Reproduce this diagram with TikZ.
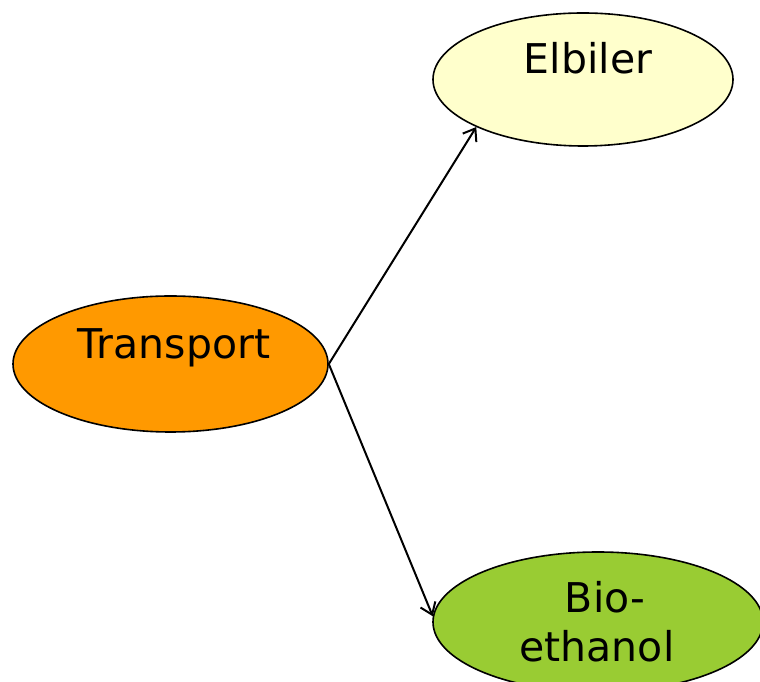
\documentclass[tikz,border=0pt]{standalone}
\usepackage{fontspec}
\setmainfont{DejaVu Sans}
\usetikzlibrary{shapes.geometric,arrows.meta}
\definecolor{orng}{HTML}{FF9900}
\definecolor{yell}{HTML}{FFFFCC}
\definecolor{grn}{HTML}{99CC33}
\begin{document}
\begin{tikzpicture}[x=1pt,y=1pt,
  blob/.style={ellipse,draw=black,line width=1.6pt,inner sep=0pt},
  lbl/.style={anchor=base,font=\fontsize{41}{48}\selectfont,inner sep=0pt},
  conn/.style={line width=2pt,-{Straight Barb[length=11pt,width=16pt,line width=2pt]}}]
\useasboundingbox (0,0) rectangle (760,682);
\node[blob,fill=orng,minimum width=315pt,minimum height=136pt] (t) at (170.5,318) {};
\node[blob,fill=yell,minimum width=300pt,minimum height=133pt] (e) at (583,602.5) {};
\node[blob,fill=grn,minimum width=330pt,minimum height=140pt] (b) at (598,60) {};
\node[lbl] (tl) at (174,323) {Transport};
\node[lbl] (el) at (588,608) {Elbiler};
\node[lbl] (bl1) at (605,69) {Bio-};
\node[lbl] (bl2) at (597,20) {ethanol};
\draw[conn] (t.east) -- (e.204);
\draw[conn] (t.east) -- (b.178);
\end{tikzpicture}
\end{document}
